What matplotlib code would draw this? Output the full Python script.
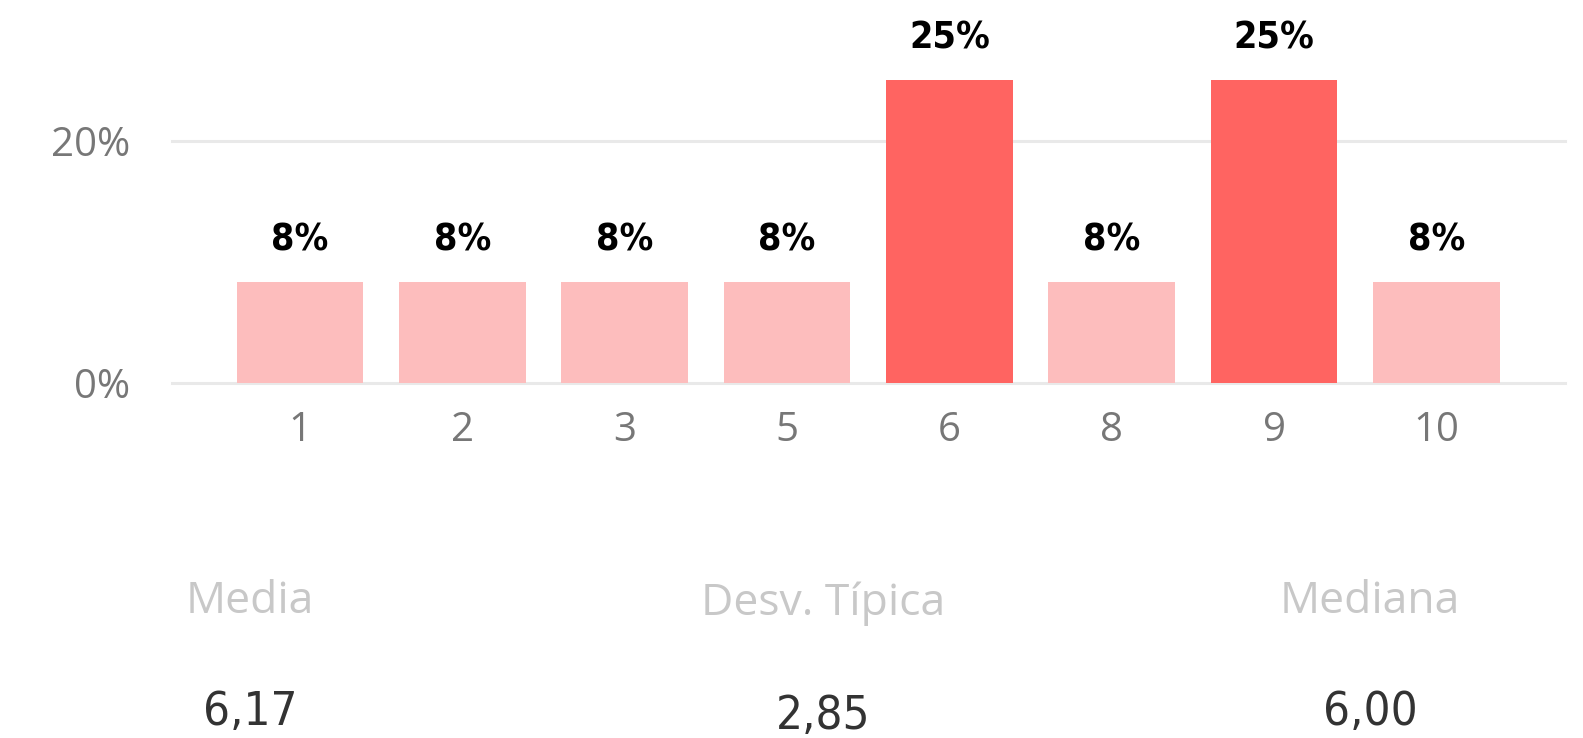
import numpy as np
import matplotlib.pyplot as plt

categories = ['1', '2', '3', '5', '6', '8', '9', '10']
shares = [8.33, 8.33, 8.33, 8.33, 25.0, 8.33, 25.0, 8.33]
bar_labels = ['8%', '8%', '8%', '8%', '25%', '8%', '25%', '8%']
y_ticks = [0, 20]
y_tick_labels = ['0%', '20%']

stat_names = ['Media', 'Desv. Típica', 'Mediana']
stat_values = ['6,17', '2,85', '6,00']

light = '#fdbdbd'
dark = '#ff6461'
grid_col = '#e9e9e9'

label_font = ['DejaVu Sans']
body_font = ['Open Sans', 'DejaVu Sans']

fig = plt.figure(figsize=(15.83, 7.38), dpi=100)
ax = fig.add_axes([0.1085, 0.481, 0.88, 0.492])

x = np.arange(len(categories))
top = max(shares)
colors = [dark if v == top else light for v in shares]
bars = ax.bar(x, shares, width=0.78, color=colors, zorder=2)

for b, lab in zip(bars, bar_labels):
    ax.text(b.get_x() + b.get_width() / 2, b.get_height() + 3.47, lab,
            ha='center', va='center', fontsize=27, fontweight='bold',
            fontstretch='condensed', color='black', family=label_font)

ax.set_xlim(-0.79, len(categories) - 1 + 0.79)
ax.set_ylim(0, 30)
ax.set_yticks(y_ticks)
ax.set_yticklabels(y_tick_labels, family=body_font, fontsize=29, color='#777777')
ax.set_xticks(x)
ax.set_xticklabels(categories, family=body_font, fontsize=29, color='#777777')
ax.tick_params(length=0)
ax.tick_params(axis='x', pad=20)
ax.tick_params(axis='y', pad=30)
for y in y_ticks:
    ax.axhline(y, color=grid_col, lw=2.2, zorder=1, clip_on=False)
for s in ax.spines.values():
    s.set_visible(False)

name_pos = [(0.158, 0.185), (0.52, 0.182), (0.8655, 0.185)]
val_pos = [(0.158, 0.034), (0.52, 0.029), (0.8655, 0.034)]
for (nx, ny), name in zip(name_pos, stat_names):
    fig.text(nx, ny, name, ha='center', va='center', fontsize=32,
             color='#c8c8c8', family=body_font)
for (vx, vy), val in zip(val_pos, stat_values):
    fig.text(vx, vy, val, ha='center', va='center', fontsize=34,
             fontweight='medium', fontstretch='condensed',
             color='#333333', family=label_font)

fig.savefig('out.png', dpi=100)
